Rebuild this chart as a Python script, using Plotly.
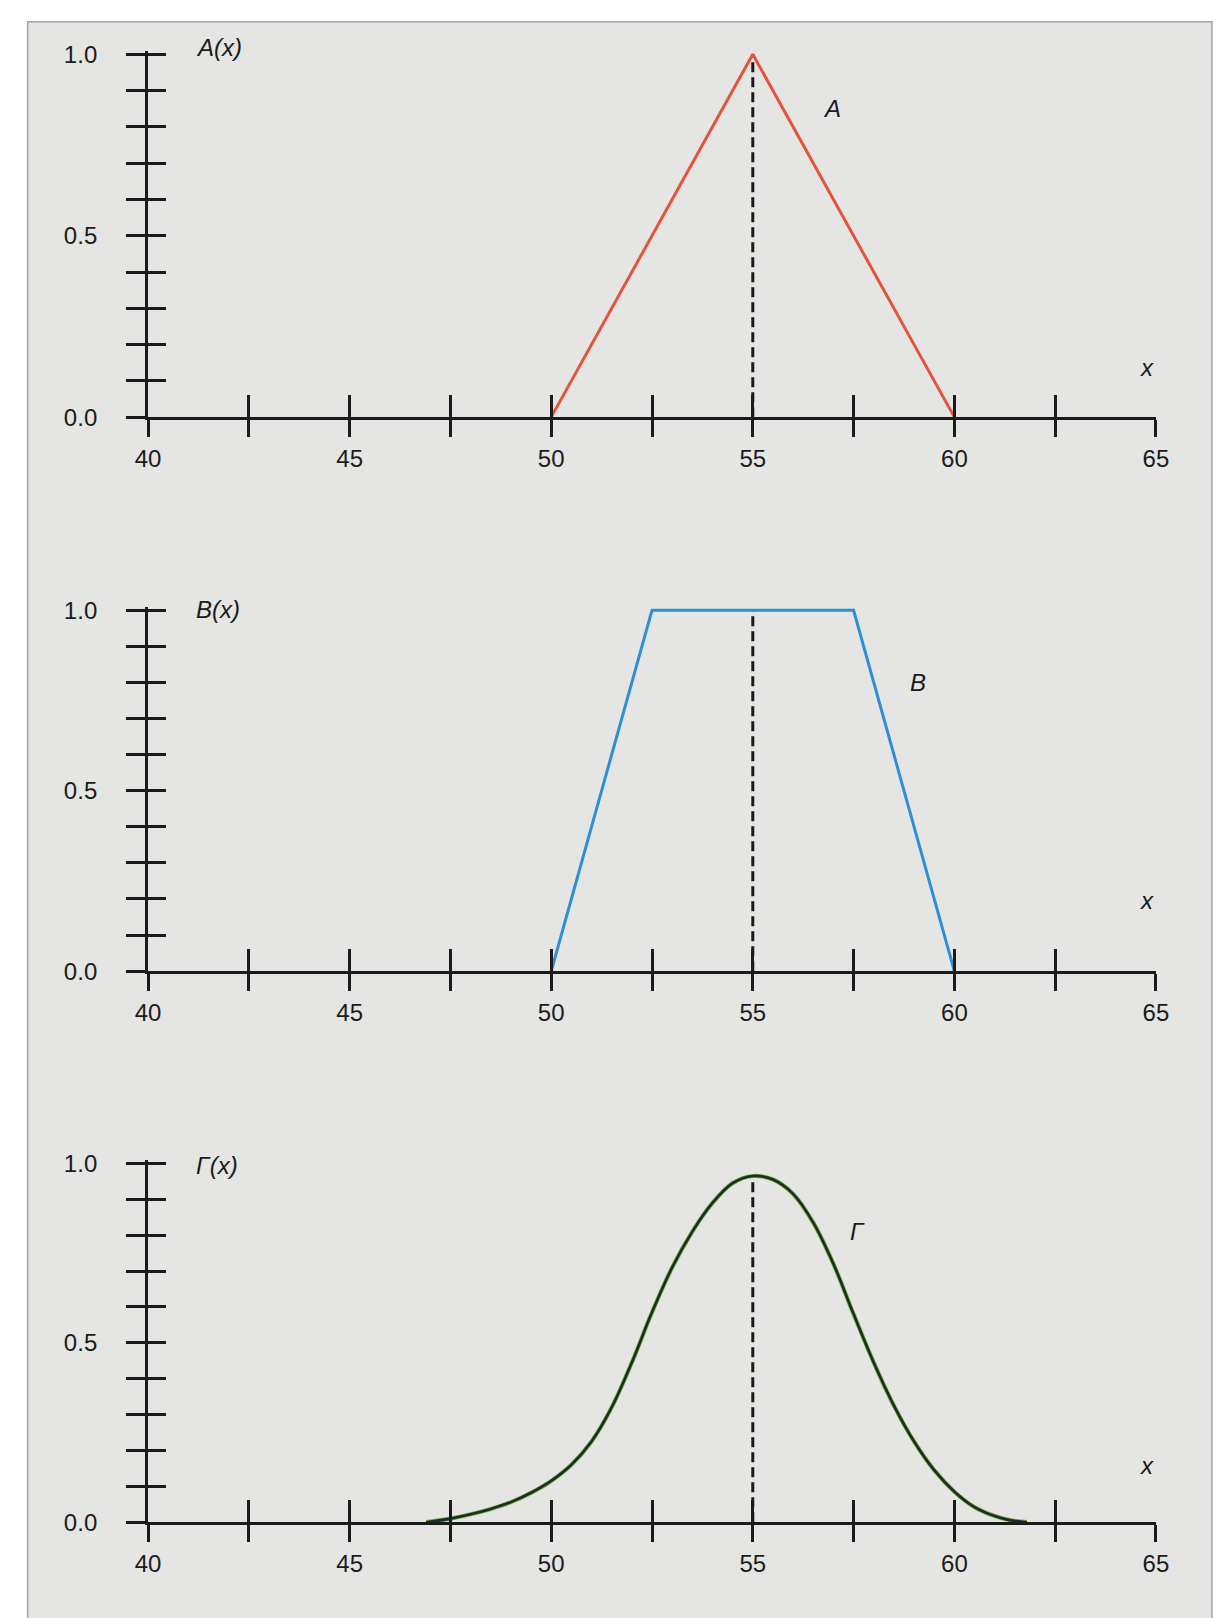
import plotly.graph_objects as go

# ---------------- data ----------------
x_ticks = [40, 42.5, 45, 47.5, 50, 52.5, 55, 57.5, 60, 62.5, 65]
x_tick_text = ["40", "", "45", "", "50", "", "55", "", "60", "", "65"]
y_ticks = [0.0, 0.1, 0.2, 0.3, 0.4, 0.5, 0.6, 0.7, 0.8, 0.9, 1.0]
y_tick_text = ["0.0", "", "", "", "", "0.5", "", "", "", "", "1.0"]

a_x = [50, 55, 60]
a_y = [0, 1.0, 0]

b_x = [50, 52.5, 57.5, 60]
b_y = [0, 1.0, 1.0, 0]

g_x = [46.9, 47.5, 48.0, 48.5, 49.0, 49.5, 50.0, 50.5, 51.0, 51.5, 52.0, 52.5,
       53.0, 53.5, 54.0, 54.5, 55.0, 55.5, 56.0, 56.5, 57.0, 57.5, 58.0, 58.5,
       59.0, 59.5, 60.0, 60.5, 61.0, 61.4, 61.8]
g_y = [0.0, 0.01, 0.022, 0.037, 0.056, 0.082, 0.115, 0.16, 0.225, 0.32, 0.445, 0.585,
       0.71, 0.81, 0.89, 0.945, 0.965, 0.955, 0.915, 0.835, 0.72, 0.58, 0.445, 0.325,
       0.225, 0.145, 0.085, 0.042, 0.017, 0.005, 0.0]

center_x = 55

# ---------------- figure ----------------
W, H = 1213, 1618
INK = "#1b1b1b"
FONT = "Liberation Sans, Arial, sans-serif"
FS = 24
RED = "#e5533d"
BLUE = "#2f8fd6"

x_dom = [138 / W, 1168 / W]
y_doms = [
    [1 - 413 / H, 1 - 41.3 / H],
    [1 - 975 / H, 1 - 605.3 / H],
    [1 - 1534 / H, 1 - 1166.4 / H],
]

fig = go.Figure()

def axref(i, kind):
    return kind if i == 1 else f"{kind}{i}"

panels = [
    dict(x=a_x, y=a_y, color=RED, spline=False, ylab="A(x)", name="A",
         name_pos=(56.97, 0.85), xlab_y=0.136, ylab_shift=7),
    dict(x=b_x, y=b_y, color=BLUE, spline=False, ylab="B(x)", name="B",
         name_pos=(59.1, 0.80), xlab_y=0.197, ylab_shift=1),
    dict(x=g_x, y=g_y, color="#1c2e22", spline=True, ylab="Γ(x)", name="Γ",
         name_pos=(57.6, 0.81), xlab_y=0.157, ylab_shift=-2),
]

annotations = []
for i, p in enumerate(panels, start=1):
    xa, ya = axref(i, "x"), axref(i, "y")
    peak = max(p["y"])
    fig.add_trace(go.Scatter(x=[center_x, center_x], y=[0, peak], mode="lines",
                             line=dict(color=INK, width=3, dash="10px,5px"),
                             xaxis=xa, yaxis=ya, showlegend=False, hoverinfo="skip"))
    if p["spline"]:
        fig.add_trace(go.Scatter(x=p["x"], y=p["y"], mode="lines",
                                 line=dict(color="#78ad45", width=4.2, shape="spline", smoothing=1.0),
                                 xaxis=xa, yaxis=ya, showlegend=False))
        fig.add_trace(go.Scatter(x=p["x"], y=p["y"], mode="lines",
                                 line=dict(color=p["color"], width=2.6, shape="spline", smoothing=1.0),
                                 xaxis=xa, yaxis=ya, showlegend=False))
    else:
        fig.add_trace(go.Scatter(x=p["x"], y=p["y"], mode="lines",
                                 line=dict(color=p["color"], width=3),
                                 xaxis=xa, yaxis=ya, showlegend=False))
    fig.add_trace(go.Scatter(x=[], y=[], xaxis=axref(i + 3, "x"), yaxis=ya, showlegend=False))
    fig.add_trace(go.Scatter(x=[], y=[], xaxis=xa, yaxis=axref(i + 3, "y"), showlegend=False))

    annotations += [
        dict(x=41.15, y=1.0, yshift=p["ylab_shift"], xref=xa, yref=ya,
             text=f"<i>{p['ylab']}</i>", showarrow=False, xanchor="left", yanchor="middle",
             font=dict(family=FONT, size=FS, color=INK)),
        dict(x=p["name_pos"][0], y=p["name_pos"][1], xref=xa, yref=ya,
             text=f"<i>{p['name']}</i>", showarrow=False, xanchor="center", yanchor="middle",
             font=dict(family=FONT, size=FS, color=INK)),
        dict(x=64.78, y=p["xlab_y"], xref=xa, yref=ya, text="<i>x</i>",
             showarrow=False, xanchor="center", yanchor="middle",
             font=dict(family=FONT, size=FS, color=INK)),
    ]

layout_axes = {}
for i in range(1, 4):
    dom = y_doms[i - 1]
    xa, ya = axref(i, "x"), axref(i, "y")
    layout_axes[f"xaxis{'' if i == 1 else i}"] = dict(
        domain=x_dom, anchor=ya, range=[40, 65], tickmode="array",
        tickvals=x_ticks, ticktext=x_tick_text, ticks="outside", ticklen=17,
        tickwidth=3, tickcolor=INK, showline=True, linewidth=3, linecolor=INK,
        showgrid=False, zeroline=False, ticklabelstandoff=1,
        tickfont=dict(family=FONT, size=FS, color=INK), fixedrange=True)
    layout_axes[f"yaxis{'' if i == 1 else i}"] = dict(
        domain=dom, anchor=xa, range=[0, 1.01], tickmode="array",
        tickvals=y_ticks, ticktext=y_tick_text, ticks="outside", ticklen=19,
        tickwidth=3, tickcolor=INK, showline=True, linewidth=3, linecolor=INK,
        showgrid=False, zeroline=False, ticklabelstandoff=24,
        tickfont=dict(family=FONT, size=FS, color=INK), fixedrange=True)
    layout_axes[f"xaxis{i + 3}"] = dict(
        overlaying=xa, anchor=ya, side="bottom", range=[40, 65], tickmode="array",
        tickvals=x_ticks, ticktext=[""] * len(x_ticks), ticks="inside", ticklen=22,
        tickwidth=3, tickcolor=INK, showline=False, showgrid=False, zeroline=False,
        showticklabels=False, fixedrange=True)
    layout_axes[f"yaxis{i + 3}"] = dict(
        overlaying=ya, anchor=xa, side="left", range=[0, 1.01], tickmode="array",
        tickvals=y_ticks, ticktext=[""] * len(y_ticks), ticks="inside", ticklen=18,
        tickwidth=3, tickcolor=INK, showline=False, showgrid=False, zeroline=False,
        showticklabels=False, fixedrange=True)

fig.update_layout(
    width=W, height=H,
    margin=dict(l=0, r=0, t=0, b=0),
    paper_bgcolor="white",
    plot_bgcolor="rgba(0,0,0,0)",
    showlegend=False,
    font=dict(family=FONT, size=FS, color=INK),
    annotations=annotations,
    shapes=[dict(type="rect", xref="paper", yref="paper",
                 x0=15 / W, x1=1.01, y0=-0.01, y1=1 - 12 / H,
                 fillcolor="#e5e5e3", line=dict(color="#a3a3a3", width=1.5),
                 layer="below")],
    **layout_axes,
)

fig.write_html("out.html")
